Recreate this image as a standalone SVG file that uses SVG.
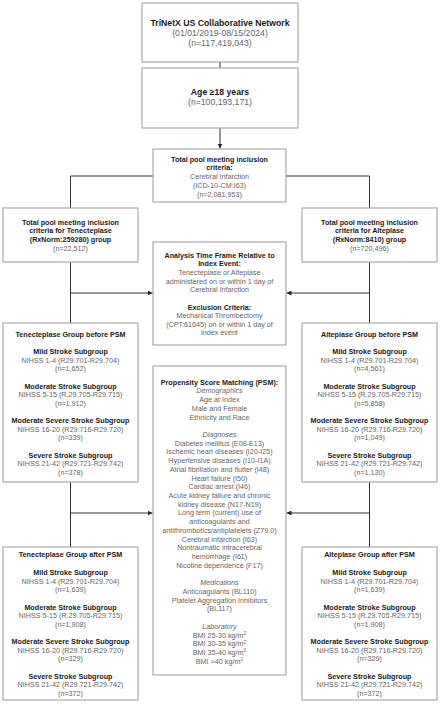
<svg xmlns="http://www.w3.org/2000/svg" width="440" height="706" viewBox="0 0 440 706">
<defs>
<marker id="arr" viewBox="0 0 10 10" refX="10" refY="5" markerWidth="5" markerHeight="5" orient="auto" markerUnits="userSpaceOnUse">
<path d="M0,0 L10,5 L0,10 z" fill="#222"/>
</marker>
<style>
rect{fill:#fff;stroke:#999;stroke-width:1}
text{font-family:"Liberation Sans",Arial,sans-serif;font-size:7.2px;fill:#666;text-anchor:middle}
.b{font-weight:bold;fill:#1a1a1a}
.i{font-style:italic}
.big{font-size:8.7px}
.c line,.c polyline{stroke:#333;stroke-width:1;fill:none}
</style>
</defs>
<rect width="440" height="706" style="fill:#fff;stroke:none"/>
<g class="c" id="connectors">
<line x1="220" y1="62" x2="220" y2="68"/>
<line x1="220" y1="128" x2="220" y2="148.5" marker-end="url(#arr)"/>
<polyline points="153,176 70.5,176 70.5,208"/>
<polyline points="286,176 369.5,176 369.5,208"/>
<line x1="70.5" y1="262" x2="70.5" y2="323"/>
<line x1="70.5" y1="293" x2="152.5" y2="293" marker-end="url(#arr)"/>
<line x1="369.5" y1="262" x2="369.5" y2="323"/>
<line x1="369.5" y1="293" x2="286.5" y2="293" marker-end="url(#arr)"/>
<line x1="70.5" y1="482" x2="70.5" y2="547"/>
<line x1="70.5" y1="513" x2="152.5" y2="513" marker-end="url(#arr)"/>
<line x1="369.5" y1="482" x2="369.5" y2="547"/>
<line x1="369.5" y1="513" x2="286.5" y2="513" marker-end="url(#arr)"/>
</g>
<g id="trinetx">
<rect x="142" y="3" width="156" height="59"/>
<text x="220" y="26" class="b big">TriNetX US Collaborative Network</text>
<text x="220" y="36" class="big">(01/01/2019-08/15/2024)</text>
<text x="220" y="46" class="big">(n=117,419,043)</text>
</g>
<g id="age">
<rect x="142" y="68" width="156" height="60"/>
<text x="220" y="95" class="b big">Age ≥18 years</text>
<text x="220" y="105" class="big">(n=100,193,171)</text>
</g>
<g id="pool">
<rect x="153" y="149" width="133" height="53"/>
<text x="219.5" y="161.5" class="b">Total pool meeting inclusion</text>
<text x="219.5" y="170.3" class="b">criteria:</text>
<text x="219.5" y="179.1">Cerebral Infarction</text>
<text x="219.5" y="187.9">(ICD-10-CM:I63)</text>
<text x="219.5" y="196.7">(n=2,081,953)</text>
</g>
<g id="tnk-pool">
<rect x="3" y="208" width="135" height="54"/>
<text x="70.5" y="224.6" class="b">Total pool meeting inclusion</text>
<text x="70.5" y="233.3" class="b">criteria for Tenecteplase</text>
<text x="70.5" y="242" class="b">(RxNorm:259280)  group</text>
<text x="70.5" y="250.7">(n=22,512)</text>
</g>
<g id="alt-pool">
<rect x="302" y="208" width="135" height="54"/>
<text x="369.5" y="224.6" class="b">Total pool meeting inclusion</text>
<text x="369.5" y="233.3" class="b">criteria for Alteplase</text>
<text x="369.5" y="242" class="b">(RxNorm:8410) group</text>
<text x="369.5" y="250.7">(n=720,496)</text>
</g>
<g id="analysis">
<rect x="153" y="242" width="133" height="103"/>
<text x="219.5" y="257.6" class="b">Analysis Time Frame Relative to</text>
<text x="219.5" y="266.25" class="b">Index Event:</text>
<text x="219.5" y="274.9">Tenecteplase or Alteplase</text>
<text x="219.5" y="283.55">administered on or within 1 day of</text>
<text x="219.5" y="292.2">Cerebral Infarction</text>
<text x="219.5" y="309.5" class="b">Exclusion Criteria:</text>
<text x="219.5" y="318.15">Mechanical Thrombectomy</text>
<text x="219.5" y="326.8">(CPT:61645) on or within 1 day of</text>
<text x="219.5" y="335.45">index event</text>
</g>
<g id="psm">
<rect x="153" y="366" width="133" height="309"/>
<text x="219.5" y="384.6" class="b">Propensity Score Matching (PSM):</text>
<text x="219.5" y="393.3" class="i">Demographics</text>
<text x="219.5" y="402.0">Age at Index</text>
<text x="219.5" y="410.8">Male and Female</text>
<text x="219.5" y="419.5">Ethnicity and Race</text>
<text x="219.5" y="436.9" class="i">Diagnoses</text>
<text x="219.5" y="445.6">Diabetes mellitus (E08-E13)</text>
<text x="219.5" y="454.4">Ischemic heart diseases (I20-I25)</text>
<text x="219.5" y="463.1">Hypertensive diseases (I10-I1A)</text>
<text x="219.5" y="471.8">Atrial fibrillation and flutter (I48)</text>
<text x="219.5" y="480.5">Heart failure (I50)</text>
<text x="219.5" y="489.2">Cardiac arrest (I46)</text>
<text x="219.5" y="498.0">Acute kidney failure and chronic</text>
<text x="219.5" y="506.7">kidney disease (N17-N19)</text>
<text x="219.5" y="515.4">Long term (current) use of</text>
<text x="219.5" y="524.1">anticoagulants and</text>
<text x="219.5" y="532.8">antithrombotics/antiplatelets (Z79.0)</text>
<text x="219.5" y="541.6">Cerebral infarction (I63)</text>
<text x="219.5" y="550.3">Nontraumatic intracerebral</text>
<text x="219.5" y="559.0">hemorrhage (I61)</text>
<text x="219.5" y="567.7">Nicotine dependence (F17)</text>
<text x="219.5" y="585.2" class="i">Medications</text>
<text x="219.5" y="593.9">Anticoagulants (BL110)</text>
<text x="219.5" y="602.6">Platelet Aggregation Inhibitors</text>
<text x="219.5" y="611.3">(BL117)</text>
<text x="219.5" y="628.8" class="i">Laboratory</text>
<text x="219.5" y="637.5">BMI 25-30 kg/m<tspan dy="-2.5" font-size="5">2</tspan></text>
<text x="219.5" y="646.2">BMI 30-35 kg/m<tspan dy="-2.5" font-size="5">2</tspan></text>
<text x="219.5" y="654.9">BMI 35-40 kg/m<tspan dy="-2.5" font-size="5">2</tspan></text>
<text x="219.5" y="663.6">BMI &gt;40 kg/m<tspan dy="-2.5" font-size="5">2</tspan></text>
</g>
<g id="tnk-before">
<rect x="3" y="323" width="135" height="159"/>
<text x="70.5" y="336.6" class="b">Tenecteplase Group before PSM</text>
<text x="70.5" y="353.9" class="b">Mild Stroke Subgroup</text>
<text x="70.5" y="362.6">NIHSS 1-4 (R29.701-R29.704)</text>
<text x="70.5" y="371.2">(n=1,652)</text>
<text x="70.5" y="388.5" class="b">Moderate Stroke Subgroup</text>
<text x="70.5" y="397.2">NIHSS 5-15 (R.29.705-R29.715)</text>
<text x="70.5" y="405.8">(n=1,912)</text>
<text x="70.5" y="423.1" class="b">Moderate Severe Stroke Subgroup</text>
<text x="70.5" y="431.8">NIHSS 16-20 (R29.716-R29.720)</text>
<text x="70.5" y="440.4">(n=339)</text>
<text x="70.5" y="457.7" class="b">Severe Stroke Subgroup</text>
<text x="70.5" y="466.4">NIHSS 21-42 (R29.721-R29.742)</text>
<text x="70.5" y="475.0">(n=378)</text>
</g>
<g id="alt-before">
<rect x="302" y="323" width="135" height="159"/>
<text x="369.5" y="336.6" class="b">Alteplase Group before PSM</text>
<text x="369.5" y="353.9" class="b">Mild Stroke Subgroup</text>
<text x="369.5" y="362.6">NIHSS 1-4 (R29.701-R29.704)</text>
<text x="369.5" y="371.2">(n=4,561)</text>
<text x="369.5" y="388.5" class="b">Moderate Stroke Subgroup</text>
<text x="369.5" y="397.2">NIHSS 5-15 (R.29.705-R29.715)</text>
<text x="369.5" y="405.8">(n=5,858)</text>
<text x="369.5" y="423.1" class="b">Moderate Severe Stroke Subgroup</text>
<text x="369.5" y="431.8">NIHSS 16-20 (R29.716-R29.720)</text>
<text x="369.5" y="440.4">(n=1,049)</text>
<text x="369.5" y="457.7" class="b">Severe Stroke Subgroup</text>
<text x="369.5" y="466.4">NIHSS 21-42 (R29.721-R29.742)</text>
<text x="369.5" y="475.0">(n=1,130)</text>
</g>
<g id="tnk-after">
<rect x="3" y="547" width="135" height="153"/>
<text x="70.5" y="557.1" class="b">Tenecteplase Group after PSM</text>
<text x="70.5" y="574.9" class="b">Mild Stroke Subgroup</text>
<text x="70.5" y="583.6">NIHSS 1-4 (R29.701-R29.704)</text>
<text x="70.5" y="592.2">(n=1,639)</text>
<text x="70.5" y="609.5" class="b">Moderate Stroke Subgroup</text>
<text x="70.5" y="618.2">NIHSS 5-15 (R.29.705-R29.715)</text>
<text x="70.5" y="626.8">(n=1,908)</text>
<text x="70.5" y="644.1" class="b">Moderate Severe Stroke Subgroup</text>
<text x="70.5" y="652.8">NIHSS 16-20 (R29.716-R29.720)</text>
<text x="70.5" y="661.4">(n=329)</text>
<text x="70.5" y="678.7" class="b">Severe Stroke Subgroup</text>
<text x="70.5" y="687.4">NIHSS 21-42 (R29.721-R29.742)</text>
<text x="70.5" y="696.0">(n=372)</text>
</g>
<g id="alt-after">
<rect x="302" y="547" width="135" height="153"/>
<text x="369.5" y="557.1" class="b">Alteplase Group after PSM</text>
<text x="369.5" y="574.9" class="b">Mild Stroke Subgroup</text>
<text x="369.5" y="583.6">NIHSS 1-4 (R29.701-R29.704)</text>
<text x="369.5" y="592.2">(n=1,639)</text>
<text x="369.5" y="609.5" class="b">Moderate Stroke Subgroup</text>
<text x="369.5" y="618.2">NIHSS 5-15 (R.29.705-R29.715)</text>
<text x="369.5" y="626.8">(n=1,908)</text>
<text x="369.5" y="644.1" class="b">Moderate Severe Stroke Subgroup</text>
<text x="369.5" y="652.8">NIHSS 16-20 (R29.716-R29.720)</text>
<text x="369.5" y="661.4">(n=329)</text>
<text x="369.5" y="678.7" class="b">Severe Stroke Subgroup</text>
<text x="369.5" y="687.4">NIHSS 21-42 (R29.721-R29.742)</text>
<text x="369.5" y="696.0">(n=372)</text>
</g>
</svg>
